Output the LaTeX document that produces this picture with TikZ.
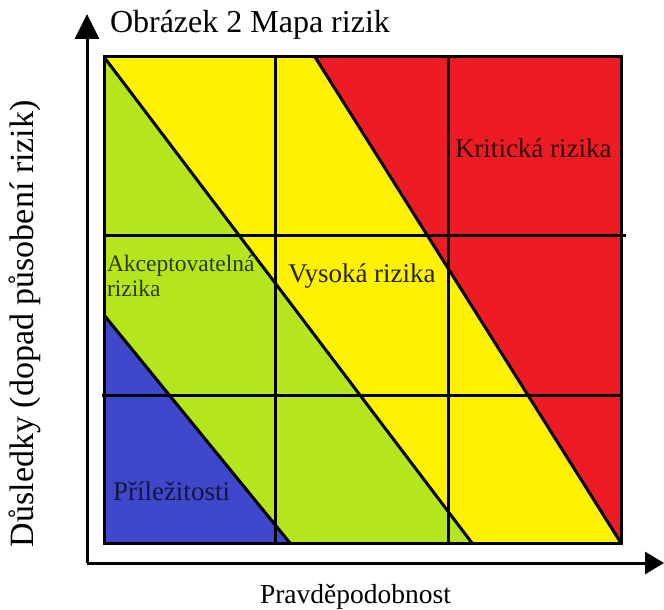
\documentclass[tikz,border=0pt]{standalone}
\usepackage{fontspec}
\setmainfont{Liberation Serif}
\usetikzlibrary{arrows.meta}
\definecolor{rblue}{HTML}{3F48CC}
\definecolor{rgreen}{HTML}{B5E61D}
\definecolor{ryellow}{HTML}{FFF200}
\definecolor{rred}{HTML}{ED1C24}
\tikzset{
  gridline/.style={line width=3pt, black},
  axisline/.style={line width=3pt, black},
  lbl/.style={inner sep=0pt, outer sep=0pt, anchor=base west, font=\fontsize{27}{30}\selectfont},
}
\begin{document}
\begin{tikzpicture}[x=1pt,y=-1pt]
\useasboundingbox (0,0) rectangle (664,610);
% corners
\coordinate (TL) at (104,57);
\coordinate (TR) at (621,57);
\coordinate (BR) at (621,543);
\coordinate (BL) at (104,543);
\coordinate (A1) at (104,315);
\coordinate (A2) at (290,543);
\coordinate (B2) at (472,543);
\coordinate (C1) at (315,57);
% regions
\fill[rblue] (A1) -- (A2) -- (BL) -- cycle;
\fill[rgreen] (TL) -- (B2) -- (A2) -- (A1) -- cycle;
\fill[ryellow] (TL) -- (C1) -- (BR) -- (B2) -- cycle;
\fill[rred] (C1) -- (TR) -- (BR) -- cycle;
% diagonals
\draw[gridline] (A1) -- (A2);
\draw[gridline] (TL) -- (B2);
\draw[gridline] (C1) -- (BR);
% grid
\coordinate (V1t) at (275,57);
\coordinate (V1b) at (275,543);
\coordinate (V2t) at (448,57);
\coordinate (V2b) at (448,543);
\coordinate (H1l) at (104,235);
\coordinate (H1r) at (626,235);
\coordinate (H2l) at (102,395);
\coordinate (H2r) at (621,395);
\draw[gridline] (V1t) -- (V1b);
\draw[gridline] (V2t) -- (V2b);
\draw[gridline] (H1l) -- (H1r);
\draw[gridline] (H2l) -- (H2r);
\draw[gridline] (TL) rectangle (BR);
% axes
\coordinate (O) at (87,563);
\coordinate (Ytip) at (87,14);
\coordinate (Xtip) at (664,563);
\draw[axisline, -{Triangle[length=25pt,width=24pt]}] (O) -- (Ytip);
\draw[axisline, -{Triangle[length=19pt,width=22pt]}] (O) -- (Xtip);
% texts
\node[lbl, font=\fontsize{32}{35}\selectfont] (title) at (110,33) {Obrázek 2 Mapa rizik};
\node[lbl, font=\fontsize{34}{37}\selectfont, rotate=90] (ylab) at (34,547) {Důsledky (dopad působení rizik)};
\node[lbl, font=\fontsize{27.5}{30}\selectfont] (xlab) at (260,603) {Pravděpodobnost};
\node[lbl, text=black!80!rred] (krit) at (455,157) {Kritická rizika};
\node[lbl, text=black!85!ryellow] (vys) at (288,282) {Vysoká rizika};
\node[lbl, text=black!70!rblue] (pril) at (113,500) {Příležitosti};
\node[lbl, font=\fontsize{23.5}{25}\selectfont, text=black!75!rgreen, align=left, anchor=north west] (akc) at (107,255) {Akceptovatelná\\rizika};
\end{tikzpicture}
\end{document}
